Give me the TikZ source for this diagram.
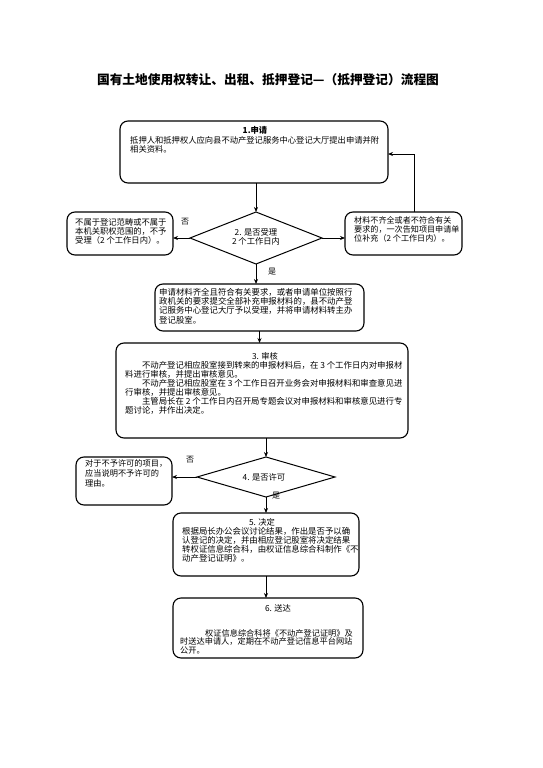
\documentclass[tikz,border=0pt]{standalone}
\usepackage{fontspec}
\setmainfont{Noto Sans CJK SC}
\usetikzlibrary{shapes.geometric,arrows.meta}
\begin{document}
\begin{tikzpicture}[x=1pt,y=-1pt,
  box/.style={draw,line width=1.1pt,rounded corners=8pt,anchor=north west,inner sep=0pt,outer sep=0pt},
  dia/.style={draw,diamond,line width=1pt,inner sep=0pt,outer sep=0pt},
  txt/.style={anchor=north west,inner sep=0pt,align=left,font=\fontsize{8.3}{9.3}\selectfont},
  ctxt/.style={inner sep=0pt,align=center,font=\fontsize{8.3}{9.3}\selectfont},
  arr/.style={-{Stealth[length=5pt,width=4pt]},line width=0.8pt},
  lbl/.style={inner sep=0pt,font=\fontsize{8}{9}\selectfont}]
\useasboundingbox[fill=white] (0,0) rectangle (543,768);

\node[inner sep=0pt,font=\fontsize{12.7}{14}\selectfont\bfseries] (title) at (268,80) {国有土地使用权转让、出租、抵押登记—（抵押登记）流程图};

% shapes
\node[box,minimum width=268pt,minimum height=62pt] (b1) at (120,121) {};
\node[dia,minimum width=132pt,minimum height=52pt] (d2) at (256,238) {};
\node[box,minimum width=106pt,minimum height=43pt] (L2) at (67,212) {};
\node[box,minimum width=117pt,minimum height=43pt] (R2) at (345,212) {};
\node[box,minimum width=209pt,minimum height=47pt] (A) at (155,284) {};
\node[box,minimum width=292pt,minimum height=95pt] (b3) at (116,343) {};
\node[dia,minimum width=138pt,minimum height=40pt] (d4) at (266,477) {};
\node[box,minimum width=96pt,minimum height=48pt] (L4) at (76,457) {};
\node[box,minimum width=186pt,minimum height=63pt] (b5) at (173,513) {};
\node[box,minimum width=190pt,minimum height=60pt] (b6) at (173,598) {};

% texts
\node[ctxt,font=\fontsize{8.3}{9.3}\selectfont\bfseries] (t1a) at (255,130) {1.申请};
\node[txt] (t1b) at (130,136) {抵押人和抵押权人应向县不动产登记服务中心登记大厅提出申请并附\\相关资料。};

\node[ctxt] (t2) at (256,237) {2. 是否受理\\2 个工作日内};
\node[txt,font=\fontsize{8.3}{9.2}\selectfont] (tL2) at (75,218) {不属于登记范畴或不属于\\本机关职权范围的，不予\\受理（2 个工作日内）。};
\node[txt,font=\fontsize{8.1}{9.2}\selectfont] (tR2) at (354,216) {材料不齐全或者不符合有关\\要求的，一次告知项目申请单\\位补充（2 个工作日内）。};

\node[txt,font=\fontsize{8.4}{9.3}\selectfont] (tA) at (159,288) {申请材料齐全且符合有关要求，或者申请单位按照行\\政机关的要求提交全部补充申报材料的，县不动产登\\记服务中心登记大厅予以受理，并将申请材料转主办\\登记股室。};

\node[ctxt] (t3a) at (265,356) {3. 审核};
\node[txt,font=\fontsize{8.4}{9.1}\selectfont] (t3b) at (125,361) {\hspace*{2em}不动产登记相应股室接到转来的申报材料后，在 3 个工作日内对申报材\\料进行审核，并提出审核意见。\\\hspace*{2em}不动产登记相应股室在 3 个工作日召开业务会对申报材料和审查意见进\\行审核，并提出审核意见。\\\hspace*{2em}主管局长在 2 个工作日内召开局专题会议对申报材料和审核意见进行专\\题讨论，并作出决定。};

\node[ctxt] (t4) at (264,477) {4. 是否许可};
\node[txt,font=\fontsize{8.2}{10}\selectfont] (tL4) at (85,459) {对于不予许可的项目，\\应当说明不予许可的\\理由。};

\node[ctxt] (t5a) at (262,522) {5. 决定};
\node[txt,font=\fontsize{8.4}{9.2}\selectfont] (t5b) at (182,527) {根据局长办公会议讨论结果，作出是否予以确\\认登记的决定，并由相应登记股室将决定结果\\转权证信息综合科，由权证信息综合科制作《不\\动产登记证明》。};

\node[ctxt] (t6a) at (278,608) {6. 送达};
\node[txt,font=\fontsize{8.2}{8.6}\selectfont] (t6b) at (180,629) {\hspace*{25pt}权证信息综合科将《不动产登记证明》及\\时送达申请人，定期在不动产登记信息平台网站\\公开。};

% labels
\node[lbl] (n1) at (185,222) {否};
\node[lbl] (y1) at (272,272) {是};
\node[lbl] (n2) at (190,460) {否};
\node[lbl] (y2) at (276,496) {是};

% connectors
\draw[arr] (b1.south -| d2) -- (d2.north);
\draw[arr] (d2.west) -- (d2.west -| L2.east);
\draw[arr] (d2.east) -- (d2.east -| R2.west);
\coordinate (k) at (414,154);
\draw[arr] (R2.north -| k) -- (k) -- (k -| b1.east);
\draw[arr] (d2.south) -- (d2.south |- A.north);
\draw[arr] (A.south) -- (A.south |- b3.north);
\draw[arr] (b3.south -| d4) -- (d4.north);
\draw[arr] (d4.west) -- (d4.west -| L4.east);
\draw[arr] (d4.south) -- (d4.south |- b5.north);
\draw[arr] (b5.south) -- (b5.south |- b6.north);
\end{tikzpicture}
\end{document}
